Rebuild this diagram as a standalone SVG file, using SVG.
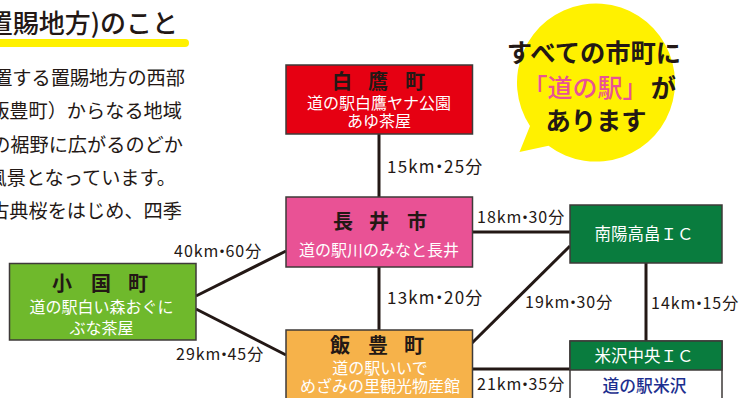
<svg xmlns="http://www.w3.org/2000/svg" width="740" height="398" viewBox="0 0 740 398">
<style>
text{font-family:"Noto Sans CJK JP","Noto Sans",sans-serif;fill:#231815}
.box{stroke:#3e3a39;stroke-width:1.5}
.ln{stroke:#231815;stroke-width:3;fill:none}
.t{font-size:20px;font-weight:700;text-anchor:middle}
.s{font-size:16px;fill:#fff;text-anchor:middle}
.d{font-size:16px;letter-spacing:1px}
.d2{font-size:17px;letter-spacing:1.2px}
.p{font-size:19.2px;text-anchor:end}
.b{font-size:25.3px;font-weight:700;text-anchor:middle}
</style>
<rect width="740" height="398" fill="#fff"/>
<g id="heading">
<line x1="-10" y1="43" x2="185" y2="43" stroke="#fff100" stroke-width="8" stroke-linecap="round"/>
<text x="178" y="33" font-size="26" font-weight="500" text-anchor="end">置賜地方)のこと</text>
</g>
<g id="intro">
<text class="p" x="185" y="85">置する置賜地方の西部</text>
<text class="p" x="182" y="118">飯豊町）からなる地域</text>
<text class="p" x="183" y="152">の裾野に広がるのどか</text>
<text class="p" x="176" y="185">風景となっています。</text>
<text class="p" x="182" y="218">古典桜をはじめ、四季</text>
</g>
<g id="connectors">
<line class="ln" x1="379" y1="134" x2="379" y2="197"/>
<line class="ln" x1="379" y1="267" x2="379" y2="330"/>
<line class="ln" x1="472" y1="232" x2="570" y2="232"/>
<line class="ln" x1="472" y1="343" x2="570" y2="246"/>
<line class="ln" x1="646" y1="263" x2="646" y2="341"/>
<line class="ln" x1="472" y1="369" x2="570" y2="369"/>
<line class="ln" x1="196" y1="296" x2="286" y2="251"/>
<line class="ln" x1="196" y1="309" x2="286" y2="355"/>
</g>
<g id="labels">
<text class="d2" x="387" y="172.500">15km<tspan dx="-5">・</tspan><tspan dx="-5">25分</tspan></text>
<text class="d2" x="387" y="304">13km<tspan dx="-5">・</tspan><tspan dx="-5">20分</tspan></text>
<text class="d" x="477" y="223">18km<tspan dx="-5.500">・</tspan><tspan dx="-5.500">30分</tspan></text>
<text class="d" x="525" y="308">19km<tspan dx="-5.500">・</tspan><tspan dx="-5.500">30分</tspan></text>
<text class="d" x="651" y="309">14km<tspan dx="-5.500">・</tspan><tspan dx="-5.500">15分</tspan></text>
<text class="d" x="477" y="390">21km<tspan dx="-5.500">・</tspan><tspan dx="-5.500">35分</tspan></text>
<text class="d" x="174" y="257">40km<tspan dx="-5.500">・</tspan><tspan dx="-5.500">60分</tspan></text>
<text class="d" x="176" y="360">29km<tspan dx="-5.500">・</tspan><tspan dx="-5.500">45分</tspan></text>
</g>
<g id="node-shirataka">
<rect class="box" x="286" y="65" width="186.500" height="69" fill="#e60012"/>
<text class="t" x="342 378 415" y="89">白鷹町</text>
<text class="s" x="379" y="109">道の駅白鷹ヤナ公園</text>
<text class="s" x="379" y="126.500">あゆ茶屋</text>
</g>
<g id="node-nagai">
<rect class="box" x="286" y="197" width="186.500" height="70" fill="#e95295"/>
<text class="t" x="343 379 417" y="229">長井市</text>
<text class="s" x="379" y="256">道の駅川のみなと長井</text>
</g>
<g id="node-oguni">
<rect class="box" x="9.500" y="263.500" width="186.500" height="76.500" fill="#6fb92c"/>
<text class="t" x="62 101 138" y="290.500">小国町</text>
<text class="s" x="101.500" y="313">道の駅白い森おぐに</text>
<text class="s" x="101.500" y="334">ぶな茶屋</text>
</g>
<g id="node-iide">
<rect class="box" x="286" y="330" width="186.500" height="80" fill="#f6b24a"/>
<text class="t" x="340 378 414" y="353">飯豊町</text>
<text class="s" x="380" y="374">道の駅いいで</text>
<text class="s" x="380" y="391.500">めざみの里観光物産館</text>
</g>
<g id="node-nanyo">
<rect class="box" x="570" y="205" width="152" height="58" fill="#097c3e"/>
<text class="s" x="644" y="240" style="font-size:16.500px">南陽高畠ＩＣ</text>
</g>
<g id="node-yonezawa">
<rect class="box" x="570" y="341" width="152" height="70" fill="#fff"/>
<rect class="box" x="570" y="341" width="152" height="29" fill="#097c3e"/>
<text class="s" x="644" y="362" style="font-size:16.500px">米沢中央ＩＣ</text>
<text x="644.500" y="391.500" font-size="16.800" font-weight="500" text-anchor="middle" style="fill:#1d2f8f">道の駅米沢</text>
</g>
<g id="bubble">
<path d="M530 126 L519.500 152 L548.500 145.700 A79 79 0 1 0 530 126 Z" fill="#fff100"/>
<text class="b" x="594" y="62">すべての市町に</text>
<text x="585" y="96.500" font-size="25" font-weight="500" text-anchor="middle" style="fill:#e95295">「道の駅」</text>
<text class="b" x="663.500" y="96.500">が</text>
<text class="b" x="596" y="130">あります</text>
</g>
</svg>
